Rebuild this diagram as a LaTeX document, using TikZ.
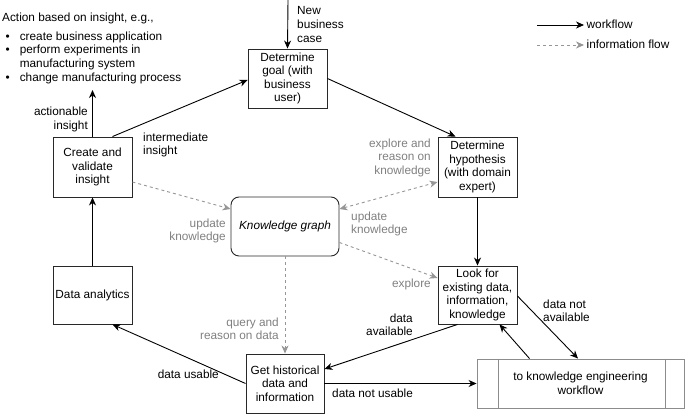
\documentclass[tikz,border=0pt]{standalone}
\usepackage{fontspec}
\setmainfont{Liberation Sans}
\usetikzlibrary{arrows.meta,calc}
\definecolor{infogray}{RGB}{150,150,150}
\definecolor{lblgray}{RGB}{128,128,128}
\definecolor{kegray}{RGB}{140,140,140}
\definecolor{boxline}{RGB}{40,40,40}
\begin{document}
\begin{tikzpicture}[x=1pt,y=-1pt,
  every node/.style={font=\fontsize{11.8}{13.6}\selectfont, inner sep=0pt},
  box/.style={draw=boxline, line width=0.9pt, align=center, minimum width=79pt, minimum height=59pt},
  wf/.style={draw=black, line width=0.9pt, -{Stealth[length=8pt,width=7pt,inset=2.5pt]}},
  info/.style={draw=infogray, line width=0.9pt, dash pattern=on 3pt off 3pt, -{Stealth[length=8pt,width=7pt,inset=2.5pt,fill=infogray]}},
  infoboth/.style={draw=infogray, line width=0.9pt, dash pattern=on 3pt off 3pt, {Stealth[length=8pt,width=7pt,inset=2.5pt,fill=infogray]}-{Stealth[length=8pt,width=7pt,inset=2.5pt,fill=infogray]}},
  lblL/.style={anchor=north west, align=left},
  lblR/.style={anchor=north east, align=right},
  glbl/.style={text=lblgray}
]
\useasboundingbox (0,0) rectangle (685,414);

% boxes
\node[box] (goal) at (287.5,78.5) {Determine\\goal (with\\business\\user)};
\node[box, minimum height=60pt] (hyp) at (477.5,167) {Determine\\hypothesis\\(with domain\\expert)};
\node[box, minimum height=58pt] (look) at (477.5,295) {Look for\\existing data,\\information,\\knowledge};
\node[box, minimum height=60pt] (create) at (92.5,167) {Create and\\validate\\insight};
\node[box, minimum height=58pt] (da) at (92.5,295) {Data analytics};
\node[box, minimum width=78pt] (gh) at (285,383.5) {Get historical\\data and\\information};
\node[draw=boxline, line width=0.9pt, rounded corners=8pt, minimum width=108pt, minimum height=59pt] (kg) at (285,226.5) {\itshape Knowledge graph};
\node[draw=kegray, line width=0.9pt, minimum width=207pt, minimum height=49pt, align=center] (ke) at (580.5,383.5) {to knowledge engineering\\workflow};
\draw[kegray, line width=0.9pt] ([xshift=22pt]ke.north west) -- ([xshift=22pt]ke.south west);
\draw[kegray, line width=0.9pt] ([xshift=-19pt]ke.north east) -- ([xshift=-19pt]ke.south east);

% free ends
\coordinate (nbc) at (288,0);
\coordinate (act) at (92.5,90);

% workflow arrows
\draw[wf] (nbc) -- (goal.north);
\draw[wf] ([xshift=20pt]create.north) -- ([yshift=-1.5pt]goal.west);
\draw[wf] (goal.east) -- ([xshift=-22pt]hyp.north);
\draw[wf] (hyp.south) -- (look.north);
\draw[wf] ([xshift=-20pt]look.south) -- ([yshift=14.5pt]gh.east);
\draw[wf] ([yshift=-1pt]look.east) -- ([xshift=-2.5pt]ke.north);
\draw[wf] ([xshift=-51pt]ke.north) -- ([xshift=22pt]look.south);
\draw[wf] (gh.east) -- (ke.west);
\draw[wf] (gh.west) -- ([xshift=20pt]da.south);
\draw[wf] (da.north) -- (create.south);
\draw[wf] (create.north) -- (act);

% information arrows
\draw[info] ([yshift=-15pt]create.east) -- ([yshift=17.5pt]kg.west);
\draw[infoboth] ([yshift=17.5pt]kg.east) -- ([yshift=-15pt]hyp.west);
\draw[info] ([yshift=-16pt]kg.east) -- ([yshift=17pt]look.west);
\draw[info] (kg.south) -- (gh.north);

% labels
\node[lblL] (lnbc) at (297,6.6) {New\\business\\case};
\node[lblR] (lact) at (88,107) {actionable\\insight};
\node[lblL] (lint) at (143,132.6) {intermediate\\insight};
\node[lblR, glbl] (lupd1) at (226,218.6) {update\\knowledge};
\node[lblR, glbl] (lexp1) at (431,138.6) {explore and\\reason on\\knowledge};
\node[lblL, glbl] (lupd2) at (351,211.6) {update\\knowledge};
\node[lblR, glbl] (lexp2) at (431,278.6) {explore};
\node[lblR, glbl] (lquery) at (279,317.6) {query and\\reason on data};
\node[lblR] (lusable) at (219,369.6) {data usable};
\node[lblL] (lnotusable) at (332,388.6) {data not usable};
\node[lblR] (lavail) at (413,313.6) {data\\available};
\node[lblL] (lnotavail) at (543,299.6) {data not\\available};

% action text
\node[lblL] (action) at (2,12.6) {Action based on insight, e.g.,};
\node[anchor=north west] (bullets) at (5.5,30.6) {\begin{tabular}[t]{@{}l@{\hspace{10pt}}l@{}}
\textbullet & create business application\\
\textbullet & perform experiments in\\
 & manufacturing system\\
\textbullet & change manufacturing process
\end{tabular}};

% legend
\coordinate (wfa) at (537,25);
\coordinate (wfb) at (584,25);
\coordinate (ifa) at (537,45);
\coordinate (ifb) at (584,45);
\draw[wf] (wfa) -- (wfb);
\draw[info] (ifa) -- (ifb);
\node[anchor=base west] (lwf) at (586.5,28.5) {workflow};
\node[anchor=base west] (lif) at (586.5,48.5) {information flow};
\end{tikzpicture}
\end{document}
